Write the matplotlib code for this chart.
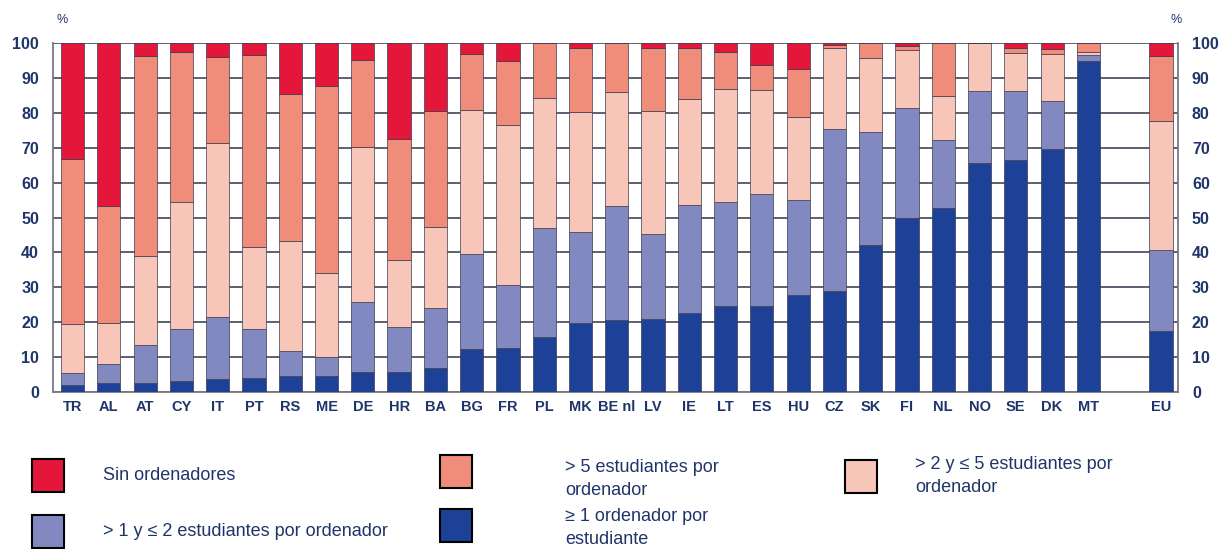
import numpy as np
import matplotlib
matplotlib.use("Agg")
from matplotlib import pyplot as plt
from matplotlib.patches import Rectangle

countries = ["TR", "AL", "AT", "CY", "IT", "PT", "RS", "ME", "DE", "HR", "BA",
             "BG", "FR", "PL", "MK", "BE nl", "LV", "IE", "LT", "ES", "HU",
             "CZ", "SK", "FI", "NL", "NO", "SE", "DK", "MT", "EU"]

# share of students (%) by computers available, stacked bottom to top
ge_1 = [2.1, 2.6, 2.6, 3.2, 3.6, 4.1, 4.5, 4.7, 5.7, 5.7, 7.0,
        12.3, 12.7, 15.8, 19.7, 20.5, 21.0, 22.7, 24.5, 24.5, 27.8,
        28.9, 42.2, 50.0, 52.7, 65.7, 66.6, 69.5, 94.8, 17.4]
gt1_le2 = [3.4, 5.4, 11.0, 14.8, 18.0, 14.0, 7.3, 5.2, 20.1, 12.8, 17.0,
           27.3, 18.1, 31.3, 26.1, 32.8, 24.4, 31.0, 29.9, 32.1, 27.3,
           46.6, 32.2, 31.5, 19.4, 20.6, 19.6, 14.0, 1.7, 23.2]
gt2_le5 = [13.9, 11.8, 25.3, 36.4, 49.8, 23.4, 31.6, 24.2, 44.4, 19.3, 23.3,
           41.1, 45.8, 37.1, 34.4, 32.7, 35.1, 30.2, 32.3, 29.9, 23.6,
           23.1, 21.4, 16.6, 12.6, 13.7, 11.0, 13.3, 0.9, 37.0]
gt5 = [47.3, 33.5, 57.4, 43.0, 24.6, 55.0, 42.0, 53.5, 24.8, 34.8, 33.1,
       16.2, 18.2, 15.8, 18.4, 14.0, 18.2, 14.8, 10.7, 7.3, 13.8,
       0.7, 4.2, 1.0, 15.3, 0.0, 1.4, 1.6, 2.6, 18.6]
no_pc = [33.3, 46.7, 3.7, 2.6, 4.0, 3.5, 14.6, 12.4, 5.0, 27.4, 19.6,
         3.1, 5.2, 0.0, 1.4, 0.0, 1.3, 1.3, 2.6, 6.2, 7.5,
         0.7, 0.0, 0.9, 0.0, 0.0, 1.4, 1.6, 0.0, 3.8]

series = [ge_1, gt1_le2, gt2_le5, gt5, no_pc]
colors = ["#1C4196", "#8189C0", "#F8C5B9", "#F08D7A", "#E4173A"]

navy = "#1F3569"
label_font = ["Liberation Sans", "DejaVu Sans"]
legend_font = ["Liberation Sans Narrow", "Liberation Sans", "DejaVu Sans"]

# EU sits apart from the countries, after an empty slot
pos = np.arange(len(countries), dtype=float)
pos[-1] += 1

fig = plt.figure(figsize=(12.21, 5.49), dpi=100)
ax = fig.add_axes([53 / 1221, 1 - 392 / 549, 1125 / 1221, 349 / 549])

bottom = np.zeros(len(countries))
for vals, c in zip(series, colors):
    vals = np.array(vals)
    ax.bar(pos, vals, bottom=bottom, width=0.64, color=c,
           edgecolor="#3a3a50", linewidth=0.5, zorder=3)
    bottom += vals

ax.set_ylim(0, 100)
ax.set_xlim(-0.54, pos[-1] + 0.47)
ax.set_yticks(range(0, 101, 10))
ax.yaxis.grid(True, color="#33364a", linewidth=1.1, zorder=0)
ax.set_axisbelow(True)
ax.tick_params(axis="both", length=0, pad=6)
ax.tick_params(axis="y", labelright=True, pad=10)
ax.set_xticks(pos)
ax.set_xticklabels(countries)
for lab in ax.get_xticklabels():
    lab.set_family(label_font)
    lab.set_fontweight("bold")
    lab.set_color(navy)
    lab.set_fontsize(10.5)
for tick in ax.yaxis.get_major_ticks():
    for lab in (tick.label1, tick.label2):
        lab.set_family(label_font)
        lab.set_fontweight("bold")
        lab.set_color(navy)
        lab.set_fontsize(11.5)
    tick.label1.set_ha("right")
    tick.label2.set_ha("left")

for side in ["left", "right", "bottom"]:
    ax.spines[side].set_color("#7a7a85")
    ax.spines[side].set_linewidth(1.3)
ax.spines["top"].set_visible(False)

fig.text(62 / 1221, 1 - 20 / 549, "%", color=navy, fontsize=9,
         family=label_font, ha="center", va="center")
fig.text(1176 / 1221, 1 - 20 / 549, "%", color=navy, fontsize=9,
         family=label_font, ha="center", va="center")

# legend drawn by hand in figure coordinates
legend_items = [
    (32, 459, colors[4], 103, 476, "Sin ordenadores"),
    (32, 515, colors[1], 103, 531, "> 1 y ≤ 2 estudiantes por ordenador"),
    (440, 455, colors[3], 565, 479, "> 5 estudiantes por\nordenador"),
    (440, 509, colors[0], 565, 528, "≥ 1 ordenador por\nestudiante"),
    (845, 460, colors[2], 915, 476, "> 2 y ≤ 5 estudiantes por\nordenador"),
]
for bx, by, c, tx, ty, text in legend_items:
    fig.patches.append(Rectangle((bx / 1221, 1 - (by + 33) / 549), 32 / 1221, 33 / 549,
                                 transform=fig.transFigure, facecolor=c,
                                 edgecolor="black", linewidth=1.5))
    fig.text(tx / 1221, 1 - ty / 549, text, color=navy, fontsize=13,
             family=legend_font, ha="left", va="center", linespacing=1.4)

fig.savefig("out.png", dpi=100)
